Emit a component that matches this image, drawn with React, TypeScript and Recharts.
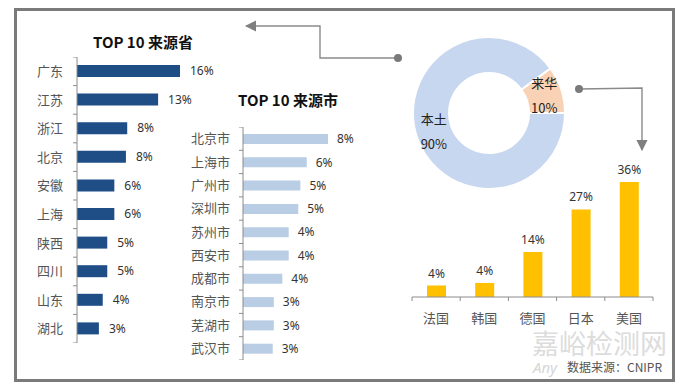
import { Bar, BarChart, Cell, LabelList, Pie, PieChart, XAxis, YAxis } from "recharts";

const provinceNames = ["广东", "江苏", "浙江", "北京", "安徽", "上海", "陕西", "四川", "山东", "湖北"];
const provinceShares = [16, 12.6, 7.8, 7.6, 5.8, 5.8, 4.7, 4.7, 4.0, 3.4];

const cityNames = ["北京市", "上海市", "广州市", "深圳市", "苏州市", "西安市", "成都市", "南京市", "芜湖市", "武汉市"];
const cityShares = [8, 6, 5.4, 5.2, 4.3, 4.3, 3.7, 2.9, 2.9, 2.8];

const originNames = ["来华", "本土"];
const originShares = [10, 90];

const countryNames = ["法国", "韩国", "德国", "日本", "美国"];
const countryShares = [3.6, 4.4, 14.1, 27.4, 36];

const provinceData = provinceNames.map((name, i) => ({ name, value: provinceShares[i] }));
const cityData = cityNames.map((name, i) => ({ name, value: cityShares[i] }));
const originData = originNames.map((name, i) => ({ name, value: originShares[i] }));
const countryData = countryNames.map((name, i) => ({ name, value: countryShares[i] }));

const CJK = '"Noto Sans CJK SC", "Noto Sans", sans-serif';
const NUM = '"Noto Sans", "Open Sans", sans-serif';
const AXIS = "#8c8c8c";
const pct = (v: any) => `${Math.round(Number(v))}%`;

function makeCategoryTick(lastName: string, step: number, gap: number) {
  return function CategoryTick(props: any) {
    const { x, y, payload } = props;
    return (
      <g>
        <line x1={x - 4} x2={x} y1={y - step / 2} y2={y - step / 2} stroke={AXIS} />
        {payload.value === lastName && (
          <line x1={x - 4} x2={x} y1={y + step / 2} y2={y + step / 2} stroke={AXIS} />
        )}
        <text x={x - gap} y={y} dy="0.36em" textAnchor="end" fill="#555" fontSize={13} fontFamily={CJK}>
          {payload.value}
        </text>
      </g>
    );
  };
}

function CountryTick(props: any) {
  const { x, y, payload } = props;
  const step = 241 / countryNames.length;
  return (
    <g>
      <line x1={x - step / 2} x2={x - step / 2} y1={y} y2={y + 4} stroke={AXIS} />
      {payload.value === countryNames[countryNames.length - 1] && (
        <line x1={x + step / 2} x2={x + step / 2} y1={y} y2={y + 4} stroke={AXIS} />
      )}
      <text x={x} y={y + 26} textAnchor="middle" fill="#555" fontSize={13} fontFamily={CJK}>
        {payload.value}
      </text>
    </g>
  );
}

function OriginLabel(props: any) {
  const { cx, cy, midAngle, innerRadius, outerRadius, name, value } = props;
  const r = (innerRadius + outerRadius) / 2;
  const rad = (Math.PI / 180) * midAngle;
  const x = cx + r * Math.cos(rad);
  const y = cy - r * Math.sin(rad);
  return (
    <text x={x} textAnchor="middle" fill="#222" fontSize={13} fontFamily={CJK}>
      <tspan x={x} y={y - 7}>{name}</tspan>
      <tspan x={x} y={y + 18}>{`${value}%`}</tspan>
    </text>
  );
}

const abs = (left: number, top: number) => ({ position: "absolute" as const, left, top });

export default function App() {
  const ProvinceTick = makeCategoryTick(provinceNames[provinceNames.length - 1], 28.6, 14);
  const CityTick = makeCategoryTick(cityNames[cityNames.length - 1], 23.3, 13);

  return (
    <div style={{ position: "absolute", left: 0, top: 0, width: 680, height: 386, background: "#fff", overflow: "hidden" }}>
      <div
        style={{
          ...abs(14, 8),
          width: 661,
          height: 374,
          border: "3px solid #7a7a7a",
          boxSizing: "border-box",
        }}
      />

      <div style={{ ...abs(93, 31), fontFamily: CJK, fontWeight: 700, fontSize: 15, color: "#111", whiteSpace: "nowrap" }}>
        TOP 10 来源省
      </div>
      <div style={{ ...abs(238, 89), fontFamily: CJK, fontWeight: 700, fontSize: 15, color: "#111", whiteSpace: "nowrap" }}>
        TOP 10 来源市
      </div>

      <div style={abs(0, 57)}>
        <BarChart width={220} height={286} data={provinceData} layout="vertical" margin={{ top: 0, right: 40, bottom: 0, left: 0 }}>
          <XAxis type="number" hide domain={[0, 16]} />
          <YAxis
            type="category"
            dataKey="name"
            width={77}
            stroke={AXIS}
            tickLine={false}
            tickSize={0}
            tickMargin={0}
            tick={ProvinceTick}
            interval={0}
          />
          <Bar dataKey="value" fill="#1f4e87" barSize={12} isAnimationActive={false}>
            <LabelList dataKey="value" position="right" offset={10} formatter={pct} fill="#333" fontSize={12} fontFamily={NUM} />
          </Bar>
        </BarChart>
      </div>

      <div style={abs(166, 127)}>
        <BarChart width={202} height={233} data={cityData} layout="vertical" margin={{ top: 0, right: 40, bottom: 0, left: 0 }}>
          <XAxis type="number" hide domain={[0, 8]} />
          <YAxis
            type="category"
            dataKey="name"
            width={77}
            stroke={AXIS}
            tickLine={false}
            tickSize={0}
            tickMargin={0}
            tick={CityTick}
            interval={0}
          />
          <Bar dataKey="value" fill="#b9cde5" barSize={10} isAnimationActive={false}>
            <LabelList dataKey="value" position="right" offset={9} formatter={pct} fill="#333" fontSize={12} fontFamily={NUM} />
          </Bar>
        </BarChart>
      </div>

      <div style={abs(399, 23)}>
        <PieChart width={180} height={180} margin={{ top: 0, right: 0, bottom: 0, left: 0 }}>
          <Pie
            data={originData}
            dataKey="value"
            nameKey="name"
            cx={90}
            cy={90}
            innerRadius={40}
            outerRadius={76}
            startAngle={0}
            endAngle={360}
            stroke="#fff"
            strokeWidth={2}
            label={OriginLabel}
            labelLine={false}
            isAnimationActive={false}
          >
            <Cell fill="#f9d2b5" />
            <Cell fill="#c6d7ef" />
          </Pie>
        </PieChart>
      </div>

      <div style={abs(400, 150)}>
        <BarChart width={270} height={190} data={countryData} margin={{ top: 32, right: 17, bottom: 13, left: 12 }}>
          <XAxis
            dataKey="name"
            height={30}
            stroke={AXIS}
            tickLine={false}
            tickSize={0}
            tickMargin={0}
            tick={CountryTick}
            interval={0}
          />
          <YAxis hide domain={[0, 36]} />
          <Bar dataKey="value" fill="#ffc000" barSize={19} isAnimationActive={false}>
            <LabelList dataKey="value" position="top" offset={8} formatter={pct} fill="#333" fontSize={12} fontFamily={NUM} />
          </Bar>
        </BarChart>
      </div>

      <svg width={680} height={386} style={{ ...abs(0, 0), pointerEvents: "none" }}>
        <defs>
          <marker id="head" viewBox="0 0 10 10" refX="9" refY="5" markerWidth="8" markerHeight="8" orient="auto">
            <path d="M0,0 L10,5 L0,10 z" fill="#7f7f7f" />
          </marker>
        </defs>
        <polyline points="398,58 320,58 320,26 246,26" fill="none" stroke="#8a8a8a" strokeWidth={1.4} markerEnd="url(#head)" />
        <circle cx={398} cy={58} r={4} fill="#7a7a7a" />
        <polyline points="579,89 642,88 642,150" fill="none" stroke="#8a8a8a" strokeWidth={1.4} markerEnd="url(#head)" />
        <circle cx={579} cy={89} r={4} fill="#7a7a7a" />
        <text x={532} y={354} fill="#dcdcdc" fontSize={27} fontFamily={CJK}>
          嘉峪检测网
        </text>
        <text x={533} y={373} fill="#d6d6d6" fontSize={15} fontStyle="italic" fontFamily={NUM}>
          Any
        </text>
        <text x={567} y={372} fill="#555" fontSize={12} fontFamily={CJK}>
          数据来源：CNIPR
        </text>
      </svg>
    </div>
  );
}
